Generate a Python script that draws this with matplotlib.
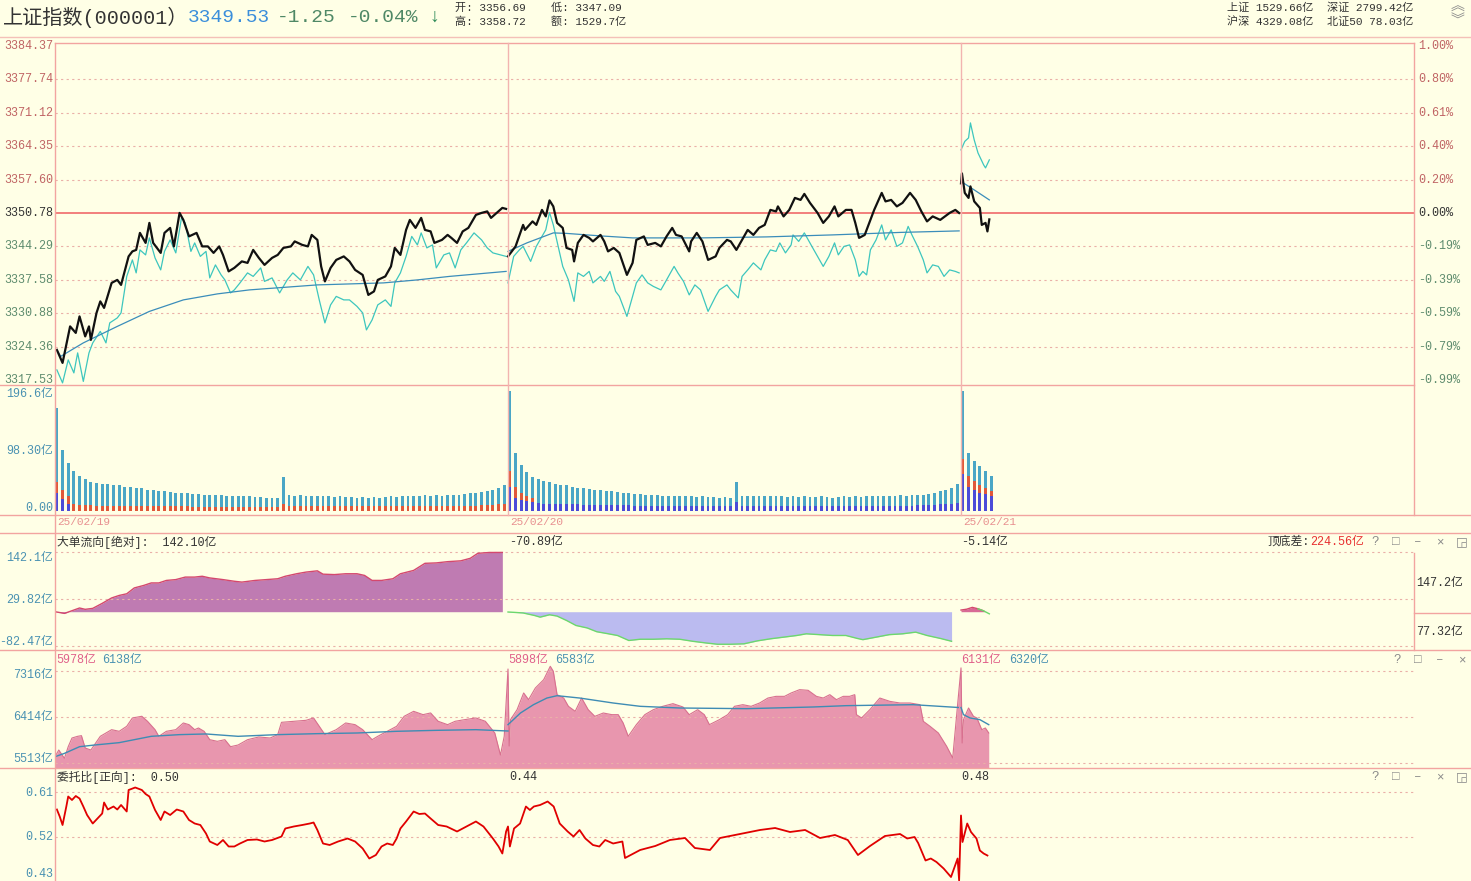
import matplotlib
matplotlib.use('Agg')
import matplotlib.pyplot as plt
from matplotlib.lines import Line2D
import matplotlib.transforms as mtransforms

plt.rcParams['font.family'] = ['Liberation Mono', 'Noto Sans CJK SC', 'DejaVu Sans']

# ---------------- data ----------------
day_offsets = [0, 240, 480]
date_labels = ['25/02/19', '25/02/20', '25/02/21']
prev_close = 3350.78

price_left_labels = ['3317.53', '3324.36', '3330.88', '3337.58', '3344.29', '3350.78',
                     '3357.60', '3364.35', '3371.12', '3377.74', '3384.37']
price_right_labels = ['-0.99%', '-0.79%', '-0.59%', '-0.39%', '-0.19%', '0.00%',
                      '0.20%', '0.40%', '0.61%', '0.80%', '1.00%']

# price (black) per day: minute-in-day, value
t_px1 = [1,4,8,11,13,16,18,19,22,24,26,30,33,35,39,41,43,45,48,50,52,56,58,61,63,66,68,71,75,78,
         81,84,87,89,92,95,99,102,105,108,111,115,118,121,125,127,131,134,136,139,141,143,146,149,153,
         156,159,163,166,169,171,175,178,180,183,186,188,191,194,196,199,201,205,208,210,213,216,219,223,226,
         229,231,234,237,239]
v_px1 = [3323.4,3320.8,3328.1,3326.8,3330.1,3326.1,3328.1,3325.4,3330.8,3333.1,3331.8,3336.8,3337.4,3336.4,
         3342.1,3343.1,3343.4,3346.8,3344.8,3348.8,3344.8,3342.8,3346.8,3347.8,3344.1,3350.8,3349.4,3346.1,
         3346.8,3344.1,3344.1,3342.8,3344.1,3342.4,3339.1,3339.8,3341.1,3340.8,3343.4,3341.8,3340.4,3341.8,
         3342.4,3343.8,3344.1,3345.1,3344.4,3344.1,3346.4,3345.4,3340.1,3337.1,3339.8,3341.4,3342.1,3341.1,
         3339.4,3338.4,3334.4,3335.1,3337.4,3338.1,3340.1,3343.8,3342.4,3347.4,3349.4,3347.8,3349.8,3347.4,
         3347.1,3344.8,3345.4,3346.4,3345.8,3344.8,3347.1,3347.8,3350.4,3350.8,3351.1,3349.8,3350.8,3351.8,3351.6]
t_px2 = [0,4,8,9,13,15,18,20,22,24,26,29,31,34,35,37,40,43,45,49,51,53,56,59,63,66,68,72,74,78,
         81,84,87,89,92,96,97,100,103,106,110,112,116,118,121,124,127,130,133,136,139,142,143,146,149,
         152,155,157,160,164,167,170,173,175,179,182,184,186,189,191,194,198,200,203,206,209,213,216,219,222,
         225,229,234,237,239]
v_px2 = [3342.1,3344.1,3348.4,3347.4,3349.1,3348.4,3351.4,3350.1,3353.3,3352.1,3348.8,3347.8,3343.8,3343.4,
         3341.1,3344.8,3346.4,3345.8,3345.1,3346.4,3345.1,3343.1,3343.8,3342.8,3338.4,3340.8,3345.4,3346.1,
         3344.4,3344.8,3344.1,3346.1,3347.8,3346.4,3346.1,3343.1,3345.1,3346.8,3345.1,3341.4,3342.1,3343.8,
         3345.4,3345.1,3343.4,3345.4,3347.4,3346.4,3347.8,3348.4,3351.4,3351.1,3352.1,3350.1,3351.4,3353.8,
         3353.4,3354.6,3352.8,3350.8,3348.8,3350.1,3352.1,3350.1,3351.4,3351.4,3348.8,3345.8,3346.4,3348.4,
         3351.4,3354.8,3353.1,3353.4,3352.1,3352.8,3354.8,3353.4,3351.1,3349.1,3350.1,3349.4,3350.8,3351.4,3350.78]
t_px3 = [0,0.5,2,4,5,7,10,11,13,14,15]
v_px3 = [3356.7,3358.7,3354.8,3353.8,3356.1,3353.1,3351.8,3348.4,3348.8,3347.1,3349.5]

# index without weighting (cyan)
t_cy1 = [1,4,7,10,12,15,18,20,24,27,29,33,35,38,41,43,45,48,50,53,56,58,61,64,67,69,72,74,77,80,
         82,85,88,90,93,95,98,102,105,109,111,115,119,123,126,130,134,137,140,143,146,149,153,156,160,
         163,165,168,171,175,178,180,183,186,189,192,194,197,200,202,206,209,212,215,218,222,226,229,232,236,239]
v_cy1 = [3319.4,3316.8,3321.4,3318.8,3322.8,3317.1,3322.8,3324.8,3327.1,3324.8,3328.8,3329.8,3330.8,3338.1,
         3341.4,3338.8,3343.4,3342.4,3345.8,3341.8,3339.4,3343.1,3345.4,3342.8,3349.8,3348.8,3343.1,3344.8,
         3342.1,3343.1,3337.8,3340.4,3338.4,3337.4,3334.8,3335.4,3336.8,3338.8,3338.1,3339.8,3337.1,3337.8,
         3334.8,3337.4,3338.8,3337.4,3340.1,3338.4,3333.4,3328.8,3332.4,3334.1,3333.4,3333.4,3332.1,3330.8,
         3327.4,3329.4,3332.4,3333.4,3332.1,3336.8,3338.8,3342.1,3346.1,3344.4,3346.8,3343.8,3344.4,3339.8,
         3342.4,3342.8,3339.8,3343.4,3344.8,3346.8,3345.4,3343.8,3342.8,3342.4,3342.1]
t_cy2 = [0,3,6,8,12,15,18,20,22,24,27,29,32,35,37,40,43,45,49,51,54,57,59,63,66,68,71,74,77,81,
         84,88,90,93,96,99,102,106,110,112,116,118,122,124,127,130,134,136,139,142,144,147,150,151,154,
         157,161,164,167,170,173,175,178,181,184,186,188,190,192,195,198,200,203,206,209,212,214,217,220,222,
         225,228,231,234,237,239]
v_cy2 = [3336.8,3342.1,3343.4,3344.1,3341.1,3344.1,3346.1,3347.4,3350.9,3348.4,3343.4,3340.1,3337.4,3333.1,
         3338.8,3338.1,3339.1,3336.8,3338.1,3337.1,3339.1,3335.1,3334.1,3330.1,3334.1,3336.8,3338.4,3336.8,
         3336.1,3335.4,3337.4,3340.1,3338.8,3337.1,3334.4,3336.4,3335.4,3331.1,3334.1,3335.4,3336.4,3335.4,
         3333.8,3338.1,3339.4,3340.8,3339.4,3341.4,3343.4,3343.1,3344.8,3342.8,3344.4,3346.4,3345.1,3346.8,
         3344.1,3342.1,3340.1,3342.1,3344.8,3342.4,3344.1,3344.4,3341.4,3338.1,3339.1,3338.4,3343.4,3345.4,
         3348.4,3345.4,3347.4,3344.1,3344.8,3348.1,3346.4,3344.1,3341.4,3338.8,3340.4,3340.1,3338.1,3339.4,
         3339.1,3338.8]
t_cy3 = [0,2,4,5,7,9,12,13,15]
v_cy3 = [3363.4,3365.1,3365.8,3368.8,3365.4,3362.8,3360.4,3359.8,3361.4]

# average price line
t_av1 = [1,3,15,33,50,68,86,103,139,174,192,209,239]
v_av1 = [3323.4,3322.1,3324.8,3328.1,3331.1,3333.4,3334.6,3335.4,3336.4,3336.8,3337.4,3338.1,3339.1]
t_av2 = [0,10,24,31,49,66,102,137,172,208,239]
v_av2 = [3343.1,3344.8,3346.8,3346.7,3346.2,3345.8,3345.8,3346.0,3346.4,3346.9,3347.2]
t_av3 = [0,7,15]
v_av3 = [3357.1,3355.4,3353.4]

# volume (亿), one bar per 3 minutes
vol_labels = ['0.00', '98.30亿', '196.6亿']
vol_ticks = [0, 98.30, 196.6]
vol_d1 = [169,100,78,66,57,52,48,46,44,45, 43,42,40,39,38,37,35,34,33,32,
          31,30,30,29,28,28,27,27,26,26, 25,25,24,25,24,23,23,22,22,21,
          55,26,25,26,25,25,24,25,24,23, 24,23,23,22,23,22,23,22,23,24,
          23,24,25,24,25,26,25,26,25,26, 27,26,28,29,30,31,33,35,38,42]
vol_d2 = [196,95,75,64,56,52,49,47,45,43, 42,40,38,37,36,35,34,33,32,31,
          30,29,28,28,27,26,26,25,25,24, 25,24,24,23,24,23,23,22,23,22,
          48,24,25,24,25,24,24,25,24,23, 24,23,24,23,23,24,23,22,23,24,
          23,24,23,24,25,24,25,24,25,26, 25,26,27,26,28,30,32,34,38,45]
vol_d3 = [196,95,82,74,66,57]
red_d1 = [18,14,12,11,10,10,10,9,9,9, 9,9,9,9,8,8,8,8,8,8,
          8,8,8,8,7,7,7,7,7,7, 7,7,7,7,7,7,7,7,7,7,
          12,8,8,8,8,8,8,8,8,8, 8,8,8,8,8,8,8,8,8,8,
          8,8,8,8,8,8,8,8,8,8, 9,9,9,9,9,10,10,10,11,12]
blue_d1_head = [30,20,12]
blue_d2 = [40,22,18,16,14,13,12,12,12,11, 11,11,11,10,10,10,10,10,10,10,
           10,10,9,9,9,9,9,9,9,9, 9,9,9,9,9,9,9,9,9,9,
           14,9,9,9,9,9,9,9,9,9, 9,9,9,9,9,9,9,9,9,9,
           9,9,9,9,9,9,9,9,9,9, 9,9,10,10,10,10,11,11,12,13]
red_d2_head = [25,18,12,9,7]
blue_d3 = [60,40,35,30,28,24]
red_d3 = [25,18,14,12,10,9]

# 大单流向 (亿)
t_fl1 = [0,5,9,13,16,20,25,30,34,38,42,47,51,55,59,64,69,74,78,82,89,95,99,106,112,118,122,128,133,139,
         142,148,154,160,164,168,173,179,183,190,196,202,208,215,220,224,230,237]
v_fl1 = [0,-4,2.4,8.9,5.7,8,20,33,39,43,57,63,69,69,75,77,83,83,85,81,77,73,71,75,77,79,85,91,95,98,
         90,89,91,91,87,75,75,79,91,99,116,117,120,122,128,140,142,142.1]
t_fl2 = [0,3,8,14,17,22,26,31,36,42,47,52,58,64,70,77,84,91,98,105,111,118,125,132,139,146,153,158,165,172,
         179,185,188,195,202,209,216,222,229,235]
v_fl2 = [-0.7,-1.5,-3,-9,-13,-7.3,-10.5,-21,-33,-39,-48,-52,-57,-69,-66,-66,-65,-66,-71,-75,
         -78,-78,-77,-70,-65,-61,-57,-53,-55,-57,-57,-64,-67,-61,-55,-53,-49,-57,-64,-70.9]
t_fl3 = [0,3,6,9,12,15]
v_fl3 = [4,6,10.4,7,2,-5.1]
flow_ticks = [-82.47, 29.82, 142.1]
flow_labels = ['-82.47亿', '29.82亿', '142.1亿']

# 成交额 panel (亿)
t_tv1 = [0,2,5,7,9,12,14,16,19,24,27,30,34,38,41,46,49,53,55,59,64,68,71,74,76,79,82,86,90,93,
         97,102,108,114,118,120,127,133,137,140,143,149,154,159,163,168,171,176,181,185,190,195,199,203,208,
         212,217,223,228,233,236,238]
v_tv1 = [5637,5768,5605,5833,6003,6036,6049,5807,5768,6036,6101,6166,6134,6232,6395,6428,6330,6166,6036,6134,
         6166,6297,6264,6166,6199,6134,5970,5938,5970,5833,5866,5970,6023,6003,6069,6310,6330,6349,6395,6232,
         6069,6166,6297,6264,6166,5970,6036,6134,6232,6428,6525,6460,6493,6330,6264,6330,6362,6395,6330,6101,
         5670,6036]
t_tv2 = [0,0.6,1.3,4.8,8.3,10.9,14.5,18.9,22.4,24,26,29.5,32,35.6,39,42.5,46,50.5,55,58.4,
         61,63.7,68,72.5,77,82,87.4,92.7,96,100.5,104,106.7,112,116.4,120,124.4,128.8,133.3,137.7,142,
         146.5,150,154.5,159,163.4,167,170.5,174,177.6,181,183.7,184.6,187.3,191.7,197,202.3,207.6,213,218.3,220,
         223.6,228,232.4,235.6]
v_tv2 = [7353,5846,6361,6557,6884,6753,6982,7144,7406,7309,6850,6785,6623,6525,6785,6557,6427,6492,6460,6460,
         6297,6036,6264,6460,6557,6623,6675,6610,6460,6557,6460,6264,6362,6460,6623,6655,6623,6688,6785,6818,
         6818,6884,6949,6936,6818,6785,6851,6753,6818,6818,6851,6460,6395,6557,6785,6720,6688,6688,6655,6330,
         6232,6101,5840,5612]
t_tv3 = [0,0.6,1.3,4,6.6,8.4,11,12.9,14.7]
v_tv3 = [7375,5905,6362,6590,6427,6395,6166,6199,6101]
t_ta1 = [0,5,13,21,34,51,66,80,97,118,139,160,181,202,223,240]
v_ta1 = [5637,5702,5833,5866,5912,6036,6069,6082,6036,6069,6088,6101,6134,6153,6166,6140]
t_ta2 = [0,6.6,13.5,20.6,26,38,55.7,70,91,126.4,161.7,179.3,214.7,238.6]
v_ta2 = [6264,6492,6655,6785,6831,6785,6688,6623,6590,6577,6610,6636,6655,6600]
t_ta3 = [0,1.3,4.8,10,14.7]
v_ta3 = [6600,6460,6395,6362,6264]
tv_ticks = [5513, 6414, 7316]
tv_labels = ['5513亿', '6414亿', '7316亿']

# 委托比
t_wr1 = [1,2.5,4,6,7,9,11,13,15,17,20,22.5,25,26,28,31,33,35,38,39,42.5,46,48,50,53,56,58,61,64.5,68,
         71,74,77,80,82,86,89,92,95,98,102,107,111,115,120,122,126.5,131,135,137,139,142,145.5,150,155,
         159,163,166.5,170,173,176,179,181,183,186,190,193,196,199,203,207.5,213,218,223,227,232,235,237,239]
v_wr1 = [0.575,0.561,0.544,0.581,0.601,0.594,0.602,0.597,0.581,0.564,0.547,0.557,0.567,0.589,0.575,0.581,
         0.575,0.584,0.571,0.614,0.619,0.614,0.606,0.601,0.574,0.554,0.571,0.564,0.575,0.571,0.554,0.547,
         0.544,0.527,0.511,0.504,0.514,0.501,0.501,0.507,0.514,0.515,0.511,0.514,0.521,0.537,0.541,0.544,
         0.547,0.549,0.534,0.507,0.504,0.511,0.517,0.511,0.497,0.477,0.484,0.501,0.507,0.504,0.517,0.537,
         0.551,0.571,0.566,0.567,0.557,0.544,0.541,0.531,0.541,0.551,0.541,0.517,0.501,0.487,0.531]
t_wr2 = [0,1,3.2,6.4,9.5,11.6,13.7,17,21,24.2,27.4,31.6,34.7,37.9,41,45,48.4,51.5,55.7,60.6,
         62,70,78,85.8,93.8,99,107,112.3,123,133.5,141.5,149.4,157.4,165.3,173.2,180,185.4,191.8,199.7,207.7,
         211.5,215.4,217.3,221.2,224,227,230.8,234.7,236.6,238.2,239]
v_wr2 = [0.541,0.501,0.537,0.547,0.581,0.574,0.581,0.584,0.591,0.581,0.547,0.531,0.521,0.534,0.517,0.504,
         0.501,0.514,0.507,0.511,0.478,0.494,0.502,0.514,0.518,0.498,0.494,0.518,0.526,0.534,0.538,0.53,
         0.534,0.518,0.524,0.514,0.484,0.502,0.522,0.526,0.517,0.52,0.508,0.473,0.477,0.47,0.457,0.44,
         0.46,0.477,0.433]
t_wr3 = [0,0.8,3.3,5.3,8.2,10,12,14]
v_wr3 = [0.563,0.51,0.547,0.53,0.517,0.493,0.487,0.483]
wr_ticks = [0.52, 0.61]
wr_labels = ['0.52', '0.61']

# ---------------- styling ----------------
W, H = 1471, 881
BG = '#FFFFE6'
FRAME = '#F2A4A0'
GRID = '#EAB0A8'
BASE = '#F06A6A'
TEAL = '#4A92B2'
UPC = '#C06464'
DNC = '#5E8C6E'
DARK = '#333333'

fig = plt.figure(figsize=(W / 100, H / 100), dpi=100, facecolor=BG)


def px_ax(x0, y0, x1, y1, ylim):
    ax = fig.add_axes([x0 / W, 1 - y1 / H, (x1 - x0) / W, (y1 - y0) / H])
    ax.set_facecolor('none')
    ax.set_xlim(0, 720)
    ax.set_ylim(*ylim)
    for s in ax.spines.values():
        s.set_visible(False)
    ax.set_xticks([])
    ax.set_yticks([])
    return ax


def hline(y, x0=0, x1=W, color=FRAME, lw=1.0):
    fig.add_artist(Line2D([x0 / W, x1 / W], [1 - y / H, 1 - y / H], transform=fig.transFigure,
                          color=color, lw=lw))


def vline(x, y0, y1, color=FRAME, lw=1.0):
    fig.add_artist(Line2D([x / W, x / W], [1 - y0 / H, 1 - y1 / H], transform=fig.transFigure,
                          color=color, lw=lw))


def ftext(x, y, s, color=DARK, size=8.5, ha='left', va='center', **kw):
    fig.text(x / W, 1 - y / H, s, color=color, fontsize=size, ha=ha, va=va, **kw)


def shift(t, d):
    return [x + d for x in t]


def ylabel(ax, y, s, color, side='left', size=8.5):
    tr = mtransforms.blended_transform_factory(ax.transAxes, ax.transData)
    if side == 'left':
        ax.text(-0.0015, y, s, transform=tr, ha='right', va='center', color=color, fontsize=size, clip_on=False)
    else:
        ax.text(1.003, y, s, transform=tr, ha='left', va='center', color=color, fontsize=size, clip_on=False)


dash = (0, (2, 3))

# ---------------- header ----------------
ftext(3, 17, '上证指数(000001）', DARK, 14.5)
ftext(188, 17, '3349.53', '#3A8EDB', 14)
ftext(277, 17, '-1.25', '#4F8866', 14)
ftext(348, 17, '-0.04%', '#4F8866', 14)
ftext(428, 17, '↓', '#2E8B57', 14)
ftext(455, 8, '开: 3356.69', DARK, 8)
ftext(551, 8, '低: 3347.09', DARK, 8)
ftext(455, 22, '高: 3358.72', DARK, 8)
ftext(551, 22, '额: 1529.7亿', DARK, 8)
ftext(1227, 8, '上证 1529.66亿', DARK, 8)
ftext(1327, 8, '深证 2799.42亿', DARK, 8)
ftext(1227, 22, '沪深 4329.08亿', DARK, 8)
ftext(1327, 22, '北证50 78.03亿', DARK, 8)
ftext(1457, 7, '︽', '#8A8A8A', 10, ha='center')
ftext(1457, 21, '︾', '#8A8A8A', 10, ha='center')

# ---------------- frame lines ----------------
hline(37, color='#F4C0B8')
hline(43, 55, 1414)
hline(385, 0, 1414)
hline(515)
hline(533)
hline(650)
hline(768)
vline(55, 43, 881)
vline(1414, 43, 515)
vline(1414, 553, 650)
hline(613, 1414, W)
for d in day_offsets[1:]:
    x = 55 + d * (1359 / 720)
    vline(x, 43, 515, color='#F2B4B0')

# ---------------- price panel ----------------
ax_p = px_ax(55, 43, 1414, 385, (3316.38, 3384.78))
step = 6.684
for k in range(-5, 6):
    val = prev_close + k * step
    if k == 0:
        ax_p.axhline(val, color=BASE, lw=1.2)
    elif abs(k) < 5:
        ax_p.axhline(val, color=GRID, lw=0.8, ls=dash)
    col = DARK if k == 0 else (UPC if k > 0 else DNC)
    ylabel(ax_p, val, price_left_labels[k + 5], col, 'left')
    ylabel(ax_p, val, price_right_labels[k + 5], col, 'right')

cy_t = [t_cy1, t_cy2, t_cy3]
cy_v = [v_cy1, v_cy2, v_cy3]
av_t = [t_av1, t_av2, t_av3]
av_v = [v_av1, v_av2, v_av3]
px_t = [t_px1, t_px2, t_px3]
px_v = [v_px1, v_px2, v_px3]
for i, d in enumerate(day_offsets):
    ax_p.plot(shift(cy_t[i], d), cy_v[i], color='#3DC6BE', lw=0.9)
    ax_p.plot(shift(av_t[i], d), av_v[i], color='#3B8DBA', lw=0.9)
    ax_p.plot(shift(px_t[i], d), px_v[i], color='#111111', lw=1.6)

# ---------------- volume panel ----------------
ax_v = px_ax(55, 385, 1414, 515, (-6.56, 206.6))
vols = [vol_d1, vol_d2, vol_d3]
for i, d in enumerate(day_offsets):
    xs = [d + 3 * j + 1.0 for j in range(len(vols[i]))]
    ax_v.bar(xs, vols[i], width=1.5, color='#4AA6C6', linewidth=0)
# bottom colored parts
xs1 = [3 * j + 1.0 for j in range(len(red_d1))]
bh = blue_d1_head
ax_v.bar(xs1[:len(bh)], bh, width=1.5, color='#4B4BD8', linewidth=0)
ax_v.bar(xs1, red_d1, bottom=bh + [0] * (len(red_d1) - len(bh)), width=1.5, color='#E0583A', linewidth=0)
xs2 = [240 + 3 * j + 1.0 for j in range(len(blue_d2))]
ax_v.bar(xs2, blue_d2, width=1.5, color='#4B4BD8', linewidth=0)
ax_v.bar(xs2[:len(red_d2_head)], red_d2_head, bottom=blue_d2[:len(red_d2_head)], width=1.5,
         color='#E0583A', linewidth=0)
xs3 = [480 + 3 * j + 1.0 for j in range(len(blue_d3))]
ax_v.bar(xs3, blue_d3, width=1.5, color='#4B4BD8', linewidth=0)
ax_v.bar(xs3, red_d3, bottom=blue_d3, width=1.5, color='#E0583A', linewidth=0)
vol_label_pos = [5, 98.30, 192]
for yv, lab in zip(vol_label_pos, vol_labels):
    ylabel(ax_v, yv, lab, TEAL, 'left')

# date row
for i, d in enumerate(day_offsets):
    x = 55 + d * (1359 / 720)
    ftext(x + 2, 522, date_labels[i], '#E89090', 8)

# ---------------- 大单流向 panel ----------------
ax_f = px_ax(55, 533, 1414, 650, (-91.8, 188.7))
for yv, lab in zip(flow_ticks, flow_labels):
    ax_f.axhline(yv, color=GRID, lw=0.8, ls=dash)
ylabel(ax_f, 128, flow_labels[2], TEAL)
ylabel(ax_f, 27, flow_labels[1], TEAL)
ylabel(ax_f, -72, flow_labels[0], TEAL)
ax_f.fill_between(t_fl1, 0, v_fl1, color='#BF7BB2', linewidth=0)
ax_f.plot(t_fl1, v_fl1, color='#D4486E', lw=1.0)
t2 = shift(t_fl2, 240)
ax_f.fill_between(t2, 0, v_fl2, color='#BBBBF0', linewidth=0)
ax_f.plot(t2, v_fl2, color='#6CD86C', lw=1.0)
t3 = shift(t_fl3, 480)
ax_f.fill_between(t3, 0, v_fl3, where=[v >= 0 for v in v_fl3], interpolate=True, color='#D86A96', linewidth=0)
ax_f.plot(t3[:5], v_fl3[:5], color='#D4486E', lw=1.0)
ax_f.plot(t3[3:], v_fl3[3:], color='#6CD86C', lw=1.0)
ftext(57, 542, '大单流向[绝对]:  142.10亿', DARK, 8.5)
ftext(509, 542, '-70.89亿', DARK, 8.5)
ftext(961, 542, '-5.14亿', DARK, 8.5)
ftext(1267, 542, '顶底差:', DARK, 8.5)
ftext(1310, 542, '224.56亿', '#E83030', 8.5)
ftext(1416, 583, '147.2亿', DARK, 8.5)
ftext(1416, 632, '77.32亿', DARK, 8.5)
for x, s in zip([1375, 1396, 1418, 1440, 1462], ['?', '□', '–', '×', '◲']):
    ftext(x, 542, s, '#8A8A8A', 9, ha='center')

# ---------------- 成交额 panel ----------------
ax_t = px_ax(55, 650, 1414, 768, (5416, 7725))
for yv in tv_ticks:
    ax_t.axhline(yv, color=GRID, lw=0.8, ls=dash)
tv_label_pos = [5592, 6414, 7236]
for yv, lab in zip(tv_label_pos, tv_labels):
    ylabel(ax_t, yv, lab, TEAL)
tv_t = t_tv1 + shift(t_tv2, 240) + shift(t_tv3, 480)
tv_v = v_tv1 + v_tv2 + v_tv3
ax_t.fill_between(tv_t, 5416, tv_v, color='#E896AE', linewidth=0)
ax_t.plot(tv_t, tv_v, color='#D8708F', lw=0.8)
ta_t = [t_ta1, t_ta2, t_ta3]
ta_v = [v_ta1, v_ta2, v_ta3]
for i, d in enumerate(day_offsets):
    ax_t.plot(shift(ta_t[i], d), ta_v[i], color='#3E8CB4', lw=1.0)
ftext(56, 660, '5978亿', '#E0608A', 8.5)
ftext(102, 660, '6138亿', TEAL, 8.5)
ftext(508, 660, '5898亿', '#E0608A', 8.5)
ftext(555, 660, '6583亿', TEAL, 8.5)
ftext(961, 660, '6131亿', '#E0608A', 8.5)
ftext(1009, 660, '6320亿', TEAL, 8.5)
for x, s in zip([1397, 1418, 1440, 1462], ['?', '□', '–', '×']):
    ftext(x, 660, s, '#8A8A8A', 9, ha='center')

# ---------------- 委托比 panel ----------------
ax_r = px_ax(55, 768, 1414, 881, (0.432, 0.658))
for yv in wr_ticks:
    ax_r.axhline(yv, color=GRID, lw=0.8, ls=dash)
ylabel(ax_r, 0.52, wr_labels[0], TEAL)
ylabel(ax_r, 0.607, wr_labels[1], TEAL)
ftext(53, 874, '0.43', TEAL, 8.5, ha='right')
wr_t = t_wr1 + shift(t_wr2, 240) + shift(t_wr3, 480)
wr_v = v_wr1 + v_wr2 + v_wr3
ax_r.plot(wr_t, wr_v, color='#E00000', lw=1.3)
ftext(57, 777, '委托比[正向]:  0.50', DARK, 8.5)
ftext(509, 777, '0.44', DARK, 8.5)
ftext(961, 777, '0.48', DARK, 8.5)
for x, s in zip([1375, 1396, 1418, 1440, 1462], ['?', '□', '–', '×', '◲']):
    ftext(x, 777, s, '#8A8A8A', 9, ha='center')

fig.savefig('out.png', dpi=100, facecolor=BG)
